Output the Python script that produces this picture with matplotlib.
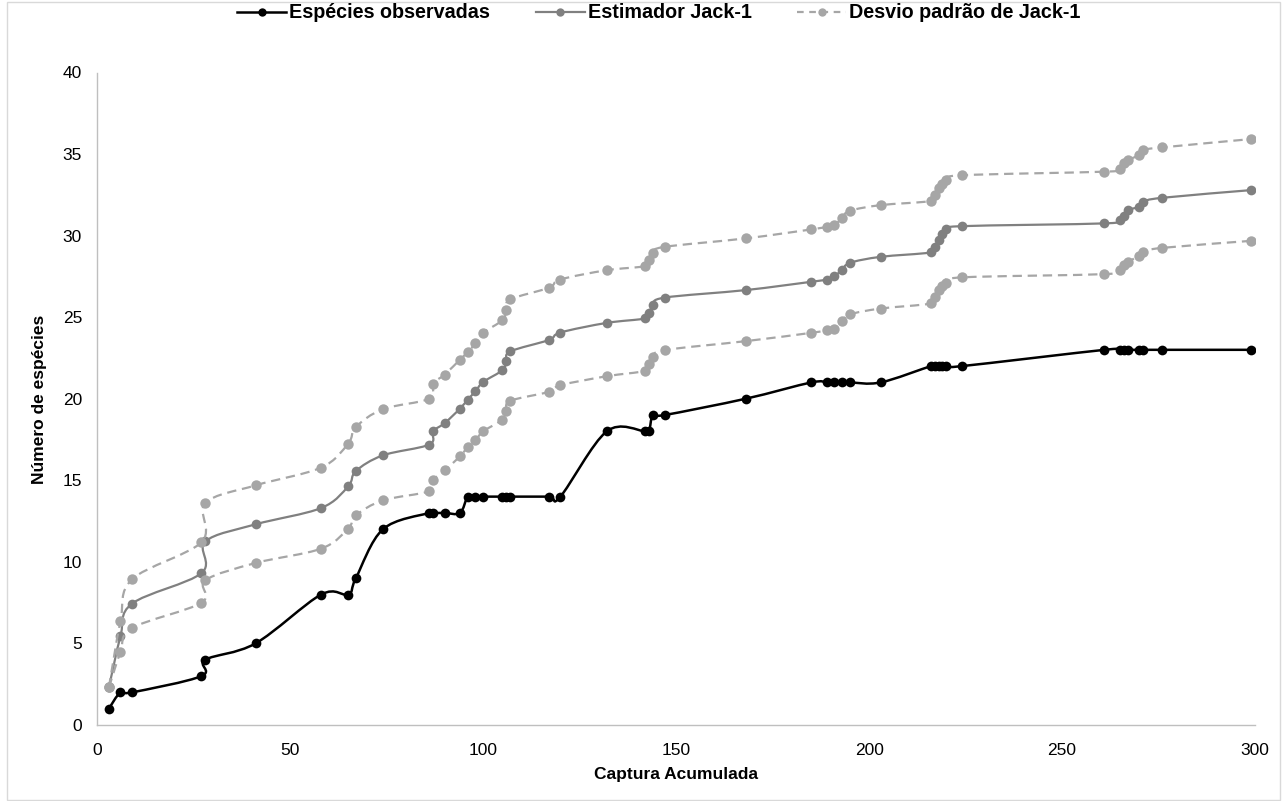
import numpy as np
import matplotlib
matplotlib.use("Agg")
import matplotlib.pyplot as plt
from matplotlib.path import Path
from matplotlib.patches import PathPatch, Rectangle
from matplotlib.lines import Line2D

plt.rcParams['font.family'] = ['Liberation Sans', 'DejaVu Sans']

# ---------------- data ----------------
captura = [3, 6, 9, 27, 28, 41, 58, 65, 67, 74, 86, 87, 90, 94, 96, 98, 100, 105, 106, 107,
           117, 120, 132, 142, 143, 144, 147, 168, 185, 189, 191, 193, 195, 203, 216, 217,
           218, 219, 220, 224, 261, 265, 266, 267, 270, 271, 276, 299]

especies_observadas = [1, 2, 2, 3, 4, 5, 8, 8, 9, 12, 13, 13, 13, 13, 14, 14, 14, 14, 14, 14,
                       14, 14, 18, 18, 18, 19, 19, 20, 21, 21, 21, 21, 21, 21, 22, 22,
                       22, 22, 22, 22, 23, 23, 23, 23, 23, 23, 23, 23]

jack1 = [2.3, 5.43, 7.44, 9.31, 11.25, 12.3, 13.3, 14.63, 15.57, 16.53, 17.19, 18.0, 18.5,
         19.4, 19.95, 20.46, 21.03, 21.75, 22.3, 22.9, 23.6, 24.06, 24.65, 24.92, 25.23,
         25.74, 26.2, 26.66, 27.17, 27.31, 27.53, 27.88, 28.33, 28.7, 28.97, 29.31, 29.72,
         30.13, 30.38, 30.58, 30.75, 30.95, 31.2, 31.56, 31.77, 32.07, 32.32, 32.79]

desvio_superior = [2.3, 6.37, 8.93, 11.21, 13.6, 14.69, 15.78, 17.25, 18.27, 19.36, 20.0,
                   20.93, 21.48, 22.4, 22.87, 23.39, 24.04, 24.82, 25.43, 26.09, 26.8, 27.31,
                   27.88, 28.13, 28.5, 28.94, 29.31, 29.83, 30.38, 30.54, 30.64, 31.09, 31.52,
                   31.87, 32.12, 32.48, 32.9, 33.15, 33.4, 33.7, 33.92, 34.06, 34.43, 34.63,
                   34.94, 35.25, 35.41, 35.92]

desvio_inferior = [2.3, 4.47, 5.94, 7.5, 8.87, 9.93, 10.81, 12.04, 12.85, 13.77, 14.33, 15.0,
                   15.61, 16.47, 17.04, 17.45, 18.0, 18.72, 19.23, 19.87, 20.42, 20.83, 21.38,
                   21.71, 22.1, 22.53, 22.98, 23.53, 24.04, 24.2, 24.3, 24.75, 25.17, 25.53,
                   25.84, 26.25, 26.66, 26.9, 27.1, 27.44, 27.64, 27.88, 28.19, 28.4, 28.74,
                   29.0, 29.25, 29.68]

legend_labels = ["Espécies observadas", "Estimador Jack-1", "Desvio padrão de Jack-1"]
x_ticks = [0, 50, 100, 150, 200, 250, 300]
y_ticks = [0, 5, 10, 15, 20, 25, 30, 35, 40]

C_OBS = "#000000"
C_JACK = "#808080"
C_SD = "#A6A6A6"


def smooth_path(x, y):
    """Excel-like smoothed line: cubic Bezier segments (Catmull-Rom control points)."""
    pts = np.column_stack([x, y]).astype(float)
    n = len(pts)
    verts = [pts[0]]
    codes = [Path.MOVETO]
    for i in range(n - 1):
        p0 = pts[i - 1] if i > 0 else pts[i]
        p1 = pts[i]
        p2 = pts[i + 1]
        p3 = pts[i + 2] if i + 2 < n else pts[i + 1]
        c1 = p1 + (p2 - p0) / 6.0
        c2 = p2 - (p3 - p1) / 6.0
        verts += [c1, c2, p2]
        codes += [Path.CURVE4] * 3
    return Path(verts, codes)


W, H = 1282, 801
fig = plt.figure(figsize=(W / 100, H / 100), dpi=100)
fig.patch.set_facecolor("white")

x0, x1 = 97.3, 1255.0
y0, y1 = 725.0, 72.5
ax = fig.add_axes([x0 / W, 1 - y0 / H, (x1 - x0) / W, (y0 - y1) / H])

def draw_series(y, color, lw, ms, dashed=False, z=2):
    patch = PathPatch(smooth_path(captura, y), fill=False, edgecolor=color, lw=lw,
                      capstyle='butt', joinstyle='round', zorder=z)
    if dashed:
        patch.set_linestyle((0, (4.2, 2.6)))
    ax.add_patch(patch)
    ax.plot(captura, y, linestyle='none', marker='o', ms=ms, color=color,
            markeredgewidth=0, zorder=z + 0.5)

draw_series(especies_observadas, C_OBS, 1.8, 7, z=2)
draw_series(jack1, C_JACK, 1.6, 7, z=3)
draw_series(desvio_superior, C_SD, 1.6, 7.5, dashed=True, z=4)
draw_series(desvio_inferior, C_SD, 1.6, 7.5, dashed=True, z=4)

ax.set_xlim(0, 300)
ax.set_ylim(0, 40)
ax.set_xticks(x_ticks)
ax.set_yticks(y_ticks)
for s in ['top', 'right']:
    ax.spines[s].set_visible(False)
for s in ['left', 'bottom']:
    ax.spines[s].set_color("#BFBFBF")
    ax.spines[s].set_linewidth(1.0)
ax.tick_params(axis='both', length=0, labelsize=12.5, colors="#000000")
ax.tick_params(axis='x', pad=13)
ax.tick_params(axis='y', pad=11)

fig.text(676 / W, 1 - 775 / H, "Captura Acumulada", ha='center', va='center',
         fontsize=12.5, fontweight='bold')
fig.text(40 / W, 1 - 399 / H, "Número de espécies", ha='center', va='center',
         rotation=90, fontsize=12.5, fontweight='bold')

handles = [
    Line2D([], [], color=C_OBS, lw=1.8, marker='o', ms=6, markeredgewidth=0),
    Line2D([], [], color=C_JACK, lw=1.6, marker='o', ms=6, markeredgewidth=0),
    Line2D([], [], color=C_SD, lw=1.6, marker='o', ms=6, markeredgewidth=0,
           linestyle=(0, (3, 2.5))),
]
leg = fig.legend(handles, legend_labels, loc='center', bbox_to_anchor=(659 / W, 1 - 13 / H),
                 ncol=3, frameon=False, handlelength=2.5, handletextpad=0.15,
                 columnspacing=2.3, prop={'weight': 'bold', 'size': 14.2})

fig.patches.append(Rectangle((7 / W, 1 / H), (1280 - 7) / W, (799 - 1) / H,
                             transform=fig.transFigure, fill=False,
                             edgecolor="#D9D9D9", lw=1.0, zorder=0))

fig.savefig("out.png", dpi=100, facecolor="white")
